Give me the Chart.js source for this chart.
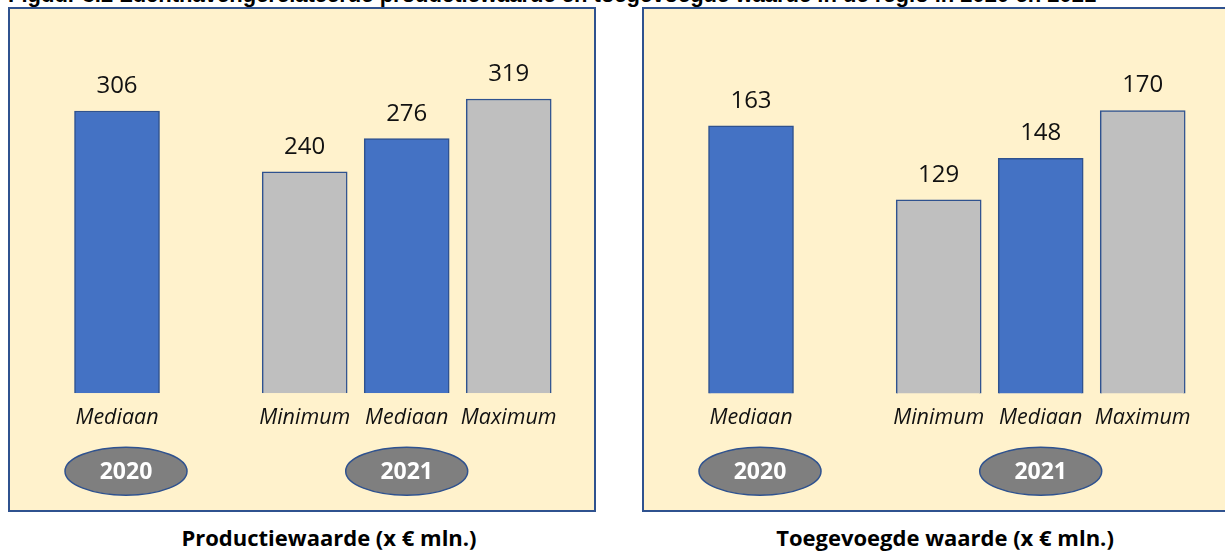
<!DOCTYPE html>
<html>
<head>
<meta charset="utf-8">
<script src="https://cdn.jsdelivr.net/npm/chart.js@4.4.1/dist/chart.umd.min.js"></script>
<style>
  body { margin: 0; width: 1225px; height: 553px; background: #fff; position: relative; overflow: hidden; font-family: 'Open Sans', sans-serif; }
  .title { position: absolute; left: 8px; top: -16px; font: bold 22px 'Liberation Sans', Arial, sans-serif; line-height: 1; white-space: nowrap; color: #000; }
  .panel { position: absolute; top: 7px; width: 588px; height: 505px; box-sizing: border-box; border: 2px solid #2F528F; background: #FFF2CC; }
  .panel canvas { position: absolute; left: 0; top: 0; }
  .caption { position: absolute; top: 522px; font: bold 22px 'Open Sans', sans-serif; line-height: 30px; white-space: nowrap; transform: translateX(-50%); color: #000; }
</style>
</head>
<body>
<div class="title">Figuur 3.2 Luchthavengerelateerde productiewaarde en toegevoegde waarde in de regio in 2020 en 2021</div>
<div class="panel" style="left:8px"><canvas id="productieChart" width="584" height="501"></canvas></div>
<div class="panel" style="left:642px"><canvas id="toegevoegdChart" width="584" height="501"></canvas></div>
<div class="caption" id="captionLeft" style="left:329px"></div>
<div class="caption" id="captionRight" style="left:945px"></div>

<script>
// --- Data ---
const categories = ['Mediaan', 'Minimum', 'Mediaan', 'Maximum'];
const years = ['2020', '2021', '2021', '2021'];
const yearLabels = ['2020', '2021'];
const productieValues = [306, 240, 276, 319];
const toegevoegdValues = [163, 129, 148, 170];
const captions = ['Productiewaarde (x € mln.)', 'Toegevoegde waarde (x € mln.)'];

// --- Layout ---
const GROUP_GAP = 0.84;   // extra space between the 2020 and 2021 groups, in bar slots
const blue = '#4472C4';
const grey = '#BFBFBF';
const edge = '#2F528F';

document.getElementById('captionLeft').textContent = captions[0];
document.getElementById('captionRight').textContent = captions[1];

// bar slot positions on the x axis
const xPositions = categories.map((c, i) => i + yearLabels.indexOf(years[i]) * GROUP_GAP);

// value labels above the bars
const valueLabels = {
  id: 'valueLabels',
  afterDatasetsDraw(chart) {
    const ctx = chart.ctx;
    const meta = chart.getDatasetMeta(0);
    ctx.save();
    ctx.font = "24px 'Open Sans'";
    ctx.fillStyle = '#111';
    ctx.textAlign = 'center';
    ctx.textBaseline = 'middle';
    meta.data.forEach((bar, i) => {
      ctx.fillText(chart.data.datasets[0].data[i].y, bar.x, bar.y - 25);
    });
    ctx.restore();
  }
};

// year ellipses under each group
const yearBadges = {
  id: 'yearBadges',
  afterDraw(chart) {
    const ctx = chart.ctx;
    const meta = chart.getDatasetMeta(0);
    const cy = chart.chartArea.bottom + 78;
    ctx.save();
    yearLabels.forEach((year, g) => {
      const xs = meta.data.filter((b, i) => years[i] === year).map(b => b.x);
      const cx = xs.reduce((a, b) => a + b, 0) / xs.length + (xs.length === 1 ? 9 : 0);
      ctx.beginPath();
      ctx.ellipse(cx, cy, 61, 24, 0, 0, Math.PI * 2);
      ctx.fillStyle = '#7F7F7F';
      ctx.fill();
      ctx.lineWidth = 1.5;
      ctx.strokeStyle = edge;
      ctx.stroke();
      ctx.font = "bold 23px 'Open Sans'";
      ctx.fillStyle = '#fff';
      ctx.textAlign = 'center';
      ctx.textBaseline = 'middle';
      ctx.fillText(year, cx, cy + 1);
    });
    ctx.restore();
  }
};

function makeChart(id, values, yMin, yMax) {
  return new Chart(document.getElementById(id), {
    type: 'bar',
    data: {
      datasets: [{
        data: values.map((v, i) => ({ x: xPositions[i], y: v })),
        backgroundColor: categories.map(c => c === 'Mediaan' ? blue : grey),
        borderColor: edge,
        borderWidth: 1.5,
        barThickness: 85
      }]
    },
    options: {
      responsive: false,
      animation: false,
      layout: { padding: { top: 19, left: 0, right: 0, bottom: 67 } },
      plugins: { legend: { display: false }, tooltip: { enabled: false } },
      scales: {
        x: {
          type: 'linear',
          min: -1.049,
          max: 4.676,
          offset: false,
          grid: { display: false, drawTicks: false },
          border: { display: false },
          afterBuildTicks: scale => { scale.ticks = xPositions.map(v => ({ value: v })); },
          ticks: {
            autoSkip: false,
            maxRotation: 0,
            padding: 12,
            color: '#111',
            font: { family: "'Open Sans'", size: 21.5, style: 'italic' },
            callback: (value, index) => categories[index]
          }
        },
        y: { display: false, min: yMin, max: yMax }
      }
    },
    plugins: [valueLabels, yearBadges]
  });
}

makeChart('productieChart', productieValues, 0, 396);
makeChart('toegevoegdChart', toegevoegdValues, 40, 208);
</script>
</body>
</html>
